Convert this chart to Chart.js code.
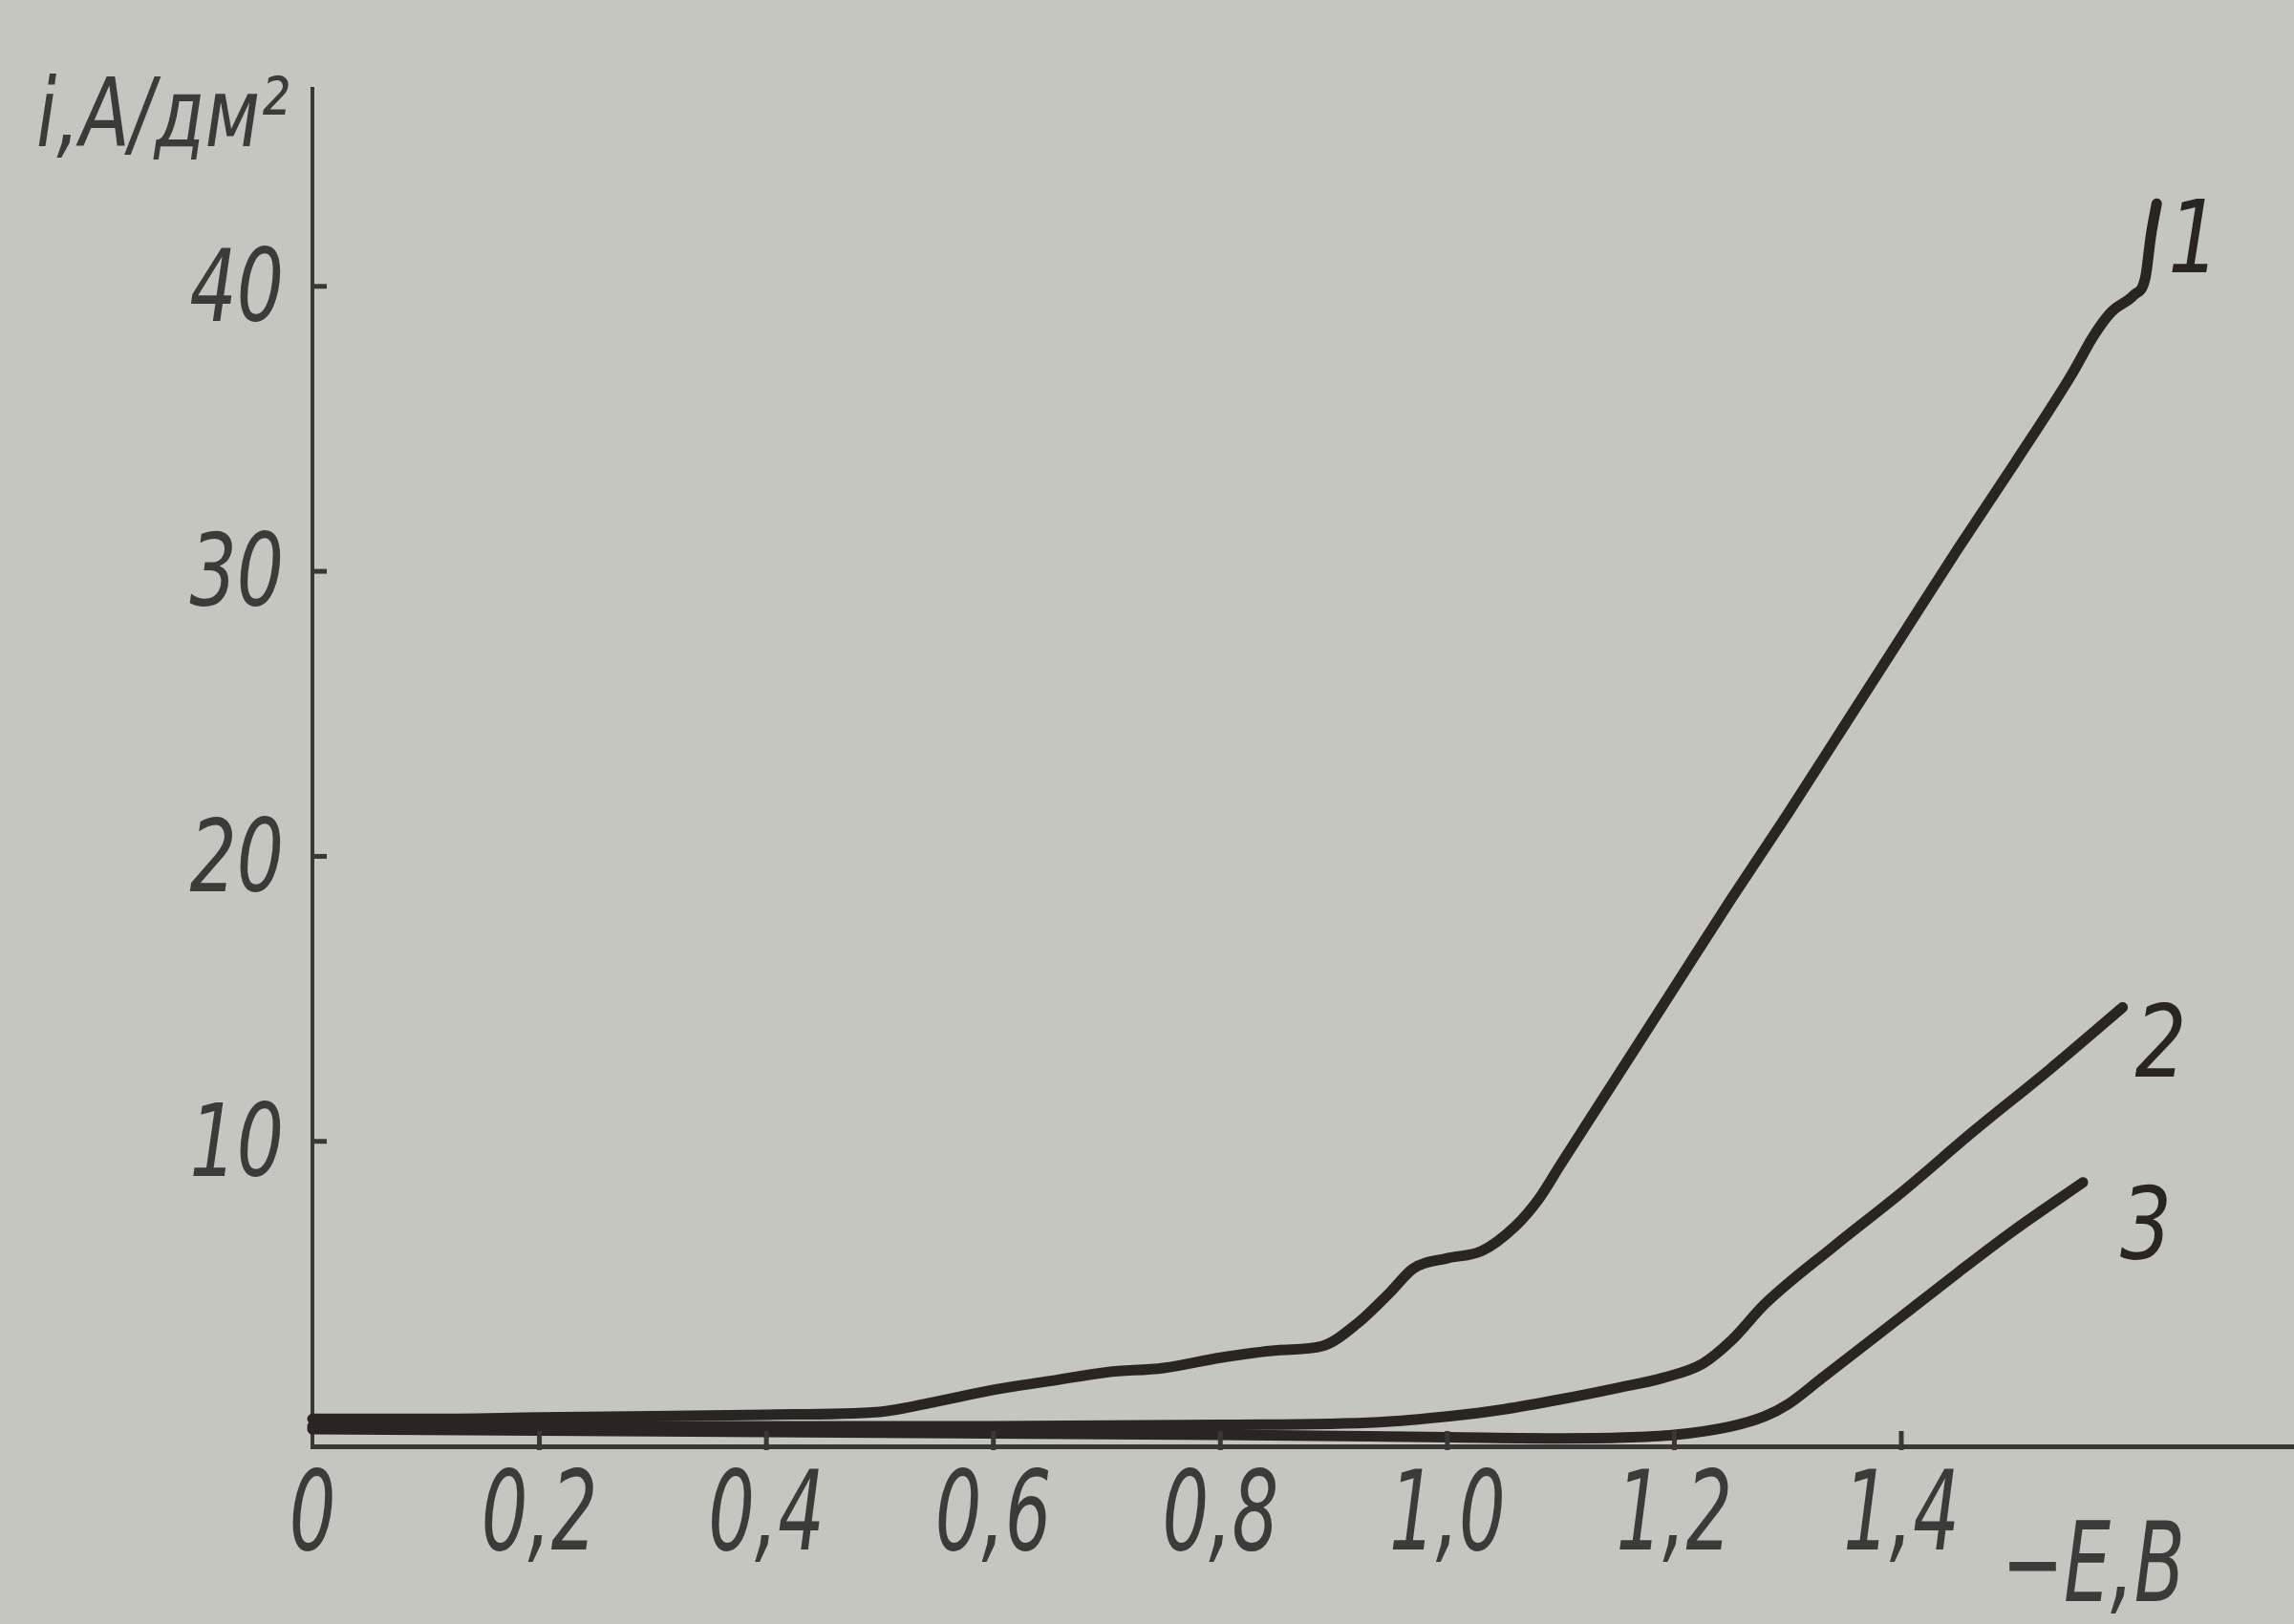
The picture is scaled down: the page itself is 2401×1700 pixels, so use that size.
<!DOCTYPE html>
<html><head><meta charset="utf-8">
<script src="https://cdn.jsdelivr.net/npm/chart.js@4.4.1/dist/chart.umd.min.js"></script>
<style>html,body{margin:0;padding:0;background:#c5c6c0;overflow:hidden}#wrap{width:2401px;height:1700px;position:relative}</style>
</head><body><div id="wrap"><canvas id="c" width="2401" height="1700"></canvas></div>
<script>
// ---- data ----
const xTicks = [0, 0.2, 0.4, 0.6, 0.8, 1.0, 1.2, 1.4];
const xTickLabels = ['0', '0,2', '0,4', '0,6', '0,8', '1,0', '1,2', '1,4'];
const yTicks = [10, 20, 30, 40];
const yTickLabels = ['10', '20', '30', '40'];
const xTitle = '\u2212E,B';
const yTitle = 'i,A/\u0434\u043c\u00b2';
const curveNames = ['1', '2', '3'];

const curve1E = [0, 0.1, 0.2, 0.3, 0.4, 0.5, 0.55, 0.6, 0.65, 0.7, 0.75, 0.8, 0.85, 0.89, 0.92, 0.95, 0.97, 1.0, 1.03, 1.06, 1.08, 1.1, 1.15, 1.2, 1.25, 1.3, 1.35, 1.4, 1.45, 1.5, 1.55, 1.57, 1.585, 1.605, 1.615, 1.62, 1.625];
const curve1I = [0.26, 0.26, 0.31, 0.36, 0.41, 0.51, 0.87, 1.28, 1.59, 1.9, 2.05, 2.41, 2.67, 2.82, 3.59, 4.72, 5.54, 5.9, 6.15, 7.03, 7.95, 9.2, 12.3, 15.4, 18.5, 21.5, 24.6, 27.7, 30.8, 33.8, 36.9, 38.3, 39.1, 39.7, 40.3, 41.8, 42.9];

const curve2E = [0, 0.2, 0.4, 0.6, 0.8, 0.94, 1.0, 1.05, 1.1, 1.15, 1.19, 1.225, 1.25, 1.28, 1.34, 1.4, 1.465, 1.53, 1.595];
const curve2I = [0, 0, 0, 0, 0.05, 0.15, 0.35, 0.6, 0.95, 1.35, 1.7, 2.2, 3.0, 4.3, 6.3, 8.2, 10.4, 12.5, 14.7];

const curve3E = [0, 0.4, 0.8, 1.0, 1.1, 1.15, 1.2, 1.25, 1.28, 1.3, 1.33, 1.4, 1.45, 1.5, 1.56];
const curve3I = [-0.1, -0.2, -0.3, -0.38, -0.42, -0.4, -0.3, 0, 0.36, 0.77, 1.69, 3.85, 5.4, 6.9, 8.56];

// ---- style ----
const BG = '#c5c6c0';
const INK = '#2a2523';
const AXIS = '#393835';
const TEXT = '#3b3b39';
const FONT = '"DejaVu Sans Condensed", "DejaVu Sans", sans-serif';

const toPts = (xs, ys) => xs.map((v, i) => ({x: v, y: ys[i]}));
const series = [toPts(curve1E, curve1I), toPts(curve2E, curve2I), toPts(curve3E, curve3I)];
const labelOffsets = [[39, 72], [40, 72], [66, 80]];

function squeezedText(ctx, text, x, y, sq) {
  ctx.save();
  ctx.translate(x, y);
  ctx.scale(sq, 1);
  ctx.fillText(text, 0, 0);
  ctx.restore();
}

// narrow the axis tick labels drawn by Chart.js (scales are drawn between beforeDraw and beforeDatasetsDraw)
const squeeze = {
  id: 'squeeze',
  beforeDraw(chart) {
    const ctx = chart.ctx;
    const proto = Object.getPrototypeOf(ctx).fillText;
    ctx.fillText = function (t, x, y) {
      const sq = this.textAlign === 'right' ? 0.82 : 0.74;
      this.save(); this.translate(x, y); this.scale(sq, 1);
      proto.call(this, t, 0, 0);
      this.restore();
    };
  },
  beforeDatasetsDraw(chart) {
    delete chart.ctx.fillText;
  }
};

const decor = {
  id: 'decor',
  beforeDraw(chart) {
    const ctx = chart.ctx;
    ctx.save();
    ctx.fillStyle = BG;
    ctx.fillRect(0, 0, chart.width, chart.height);
    ctx.restore();
  },
  afterDraw(chart) {
    const {ctx, scales: {x, y}} = chart;
    ctx.save();
    ctx.strokeStyle = AXIS;
    ctx.lineWidth = 5;
    xTicks.forEach(v => {
      if (v === 0) return;
      const px = x.getPixelForValue(v);
      ctx.beginPath(); ctx.moveTo(px, y.bottom + 4); ctx.lineTo(px, y.bottom - 16); ctx.stroke();
    });
    yTicks.forEach(v => {
      const py = y.getPixelForValue(v);
      ctx.beginPath(); ctx.moveTo(x.left, py); ctx.lineTo(x.left + 15, py); ctx.stroke();
    });
    ctx.fillStyle = TEXT;
    ctx.textBaseline = 'alphabetic';
    ctx.textAlign = 'left';
    ctx.font = 'italic 100px ' + FONT;
    squeezedText(ctx, yTitle, 38, 153, 0.85);
    ctx.font = 'italic 115px ' + FONT;
    squeezedText(ctx, xTitle, x.getPixelForValue(1.4) + 105, 1676, 0.75);
    ctx.font = 'italic 105px ' + FONT;
    ctx.textAlign = 'center';
    ctx.fillStyle = INK;
    chart.data.datasets.forEach((ds, i) => {
      const meta = chart.getDatasetMeta(i);
      const pt = meta.data[meta.data.length - 1];
      squeezedText(ctx, curveNames[i], pt.x + labelOffsets[i][0], pt.y + labelOffsets[i][1], 0.9);
    });
    ctx.restore();
  }
};

new Chart(document.getElementById('c'), {
  type: 'scatter',
  data: {
    datasets: series.map((pts, i) => ({
      label: curveNames[i],
      data: pts,
      showLine: true,
      borderColor: INK,
      borderWidth: 11,
      pointRadius: 0,
      cubicInterpolationMode: 'monotone',
      borderCapStyle: 'round',
      borderJoinStyle: 'round',
      clip: false
    }))
  },
  options: {
    responsive: false,
    devicePixelRatio: 1,
    animation: false,
    layout: {padding: {top: 92, right: 0, left: 0, bottom: 0}},
    plugins: {legend: {display: false}, tooltip: {enabled: false}, title: {display: false}},
    scales: {
      x: {
        type: 'linear', min: 0, max: 1.746,
        grid: {display: false, drawTicks: false},
        border: {display: true, color: AXIS, width: 5},
        afterBuildTicks: s => { s.ticks = xTicks.map(v => ({value: v})); },
        afterFit: s => { s.height = 186; },
        ticks: {
          padding: 9, color: TEXT, maxRotation: 0, autoSkip: false,
          font: {family: FONT, size: 115, style: 'italic'},
          callback: (v, i) => xTickLabels[i]
        }
      },
      y: {
        type: 'linear', min: -0.7, max: 46.93,
        grid: {display: false, drawTicks: false},
        border: {display: true, color: AXIS, width: 4},
        afterBuildTicks: s => { s.ticks = yTicks.map(v => ({value: v})); },
        afterFit: s => { s.width = 327; },
        ticks: {
          padding: 30, labelOffset: 9, color: TEXT, autoSkip: false,
          font: {family: FONT, size: 105, style: 'italic'},
          callback: (v, i) => yTickLabels[i]
        }
      }
    }
  },
  plugins: [squeeze, decor]
});
</script></body></html>
